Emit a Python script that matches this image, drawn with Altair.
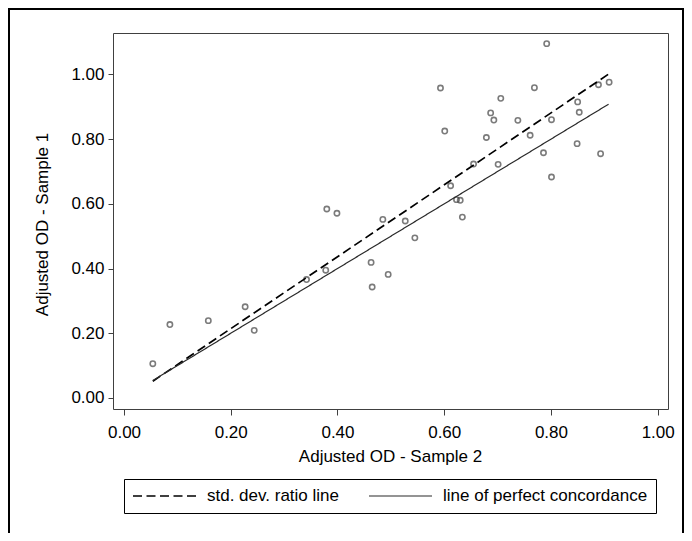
import altair as alt
import pandas as pd

# Scatter data
sample2 = [0.054, 0.086, 0.158, 0.227, 0.244, 0.342, 0.378, 0.380, 0.399, 0.463,
           0.465, 0.485, 0.495, 0.527, 0.545, 0.593, 0.601, 0.612, 0.623, 0.630,
           0.634, 0.655, 0.679, 0.687, 0.693, 0.701, 0.706, 0.738, 0.761, 0.769,
           0.786, 0.792, 0.801, 0.801, 0.849, 0.850, 0.853, 0.889, 0.893, 0.909]
sample1 = [0.106, 0.227, 0.239, 0.282, 0.209, 0.366, 0.395, 0.584, 0.571, 0.419,
           0.343, 0.552, 0.382, 0.547, 0.495, 0.958, 0.825, 0.656, 0.613, 0.611,
           0.559, 0.723, 0.805, 0.881, 0.859, 0.722, 0.926, 0.858, 0.812, 0.959,
           0.758, 1.095, 0.860, 0.683, 0.786, 0.915, 0.883, 0.968, 0.755, 0.976]

# Reference lines (end points)
line_x = [0.054, 0.908]
sdratio_y = [0.052, 1.001]
perfect_y = [0.054, 0.908]
series_names = ["std. dev. ratio line", "line of perfect concordance"]

ticks = [0.0, 0.2, 0.4, 0.6, 0.8, 1.0]

FONT = "Liberation Sans"

pts = pd.DataFrame({"x": sample2, "y": sample1})
lines = pd.DataFrame({
    "x": line_x + line_x,
    "y": sdratio_y + perfect_y,
    "series": [series_names[0]] * 2 + [series_names[1]] * 2,
})

xscale = alt.Scale(domain=[-0.0206, 1.0193], nice=False, zero=False)
yscale = alt.Scale(domain=[-0.034, 1.128], nice=False, zero=False)

xaxis = alt.Axis(values=ticks, format=".2f", title="Adjusted OD - Sample 2",
                 grid=False, domain=False, tickSize=6, tickColor="#404040",
                 labelPadding=9, labelFontSize=17, labelFont=FONT, labelColor="black",
                 titleFontSize=17, titleFont=FONT, titleFontWeight="normal",
                 titleColor="black", titleX=277, titleY=52, titleBaseline="alphabetic",
                 titleAnchor="middle", labelFlush=False)
yaxis = alt.Axis(values=ticks, format=".2f", title="Adjusted OD - Sample 1",
                 grid=False, domain=False, tickSize=5, tickColor="#404040",
                 labelPadding=4, labelFontSize=17, labelFont=FONT, labelColor="black",
                 titleFontSize=17, titleFont=FONT, titleFontWeight="normal",
                 titleColor="black", titleX=-71, titleY=191, titleAngle=270,
                 titleAlign="center", titleBaseline="middle", labelFlush=False)

points = alt.Chart(pts).mark_point(shape="circle", filled=False, size=28,
                                   strokeWidth=1.6, color="#444444").encode(
    x=alt.X("x:Q", scale=xscale, axis=xaxis),
    y=alt.Y("y:Q", scale=yscale, axis=yaxis),
)

legend = alt.Legend(orient="none", legendX=11, legendY=446, direction="horizontal",
                    columns=2, title=None, symbolType="stroke", symbolSize=3969,
                    symbolStrokeWidth=1.3, labelFontSize=17, labelFont=FONT,
                    labelColor="black", labelOffset=10, columnPadding=29, padding=8,
                    clipHeight=18, strokeColor="black", labelLimit=400)

line_layer = alt.Chart(lines).mark_line().encode(
    x=alt.X("x:Q", scale=xscale),
    y=alt.Y("y:Q", scale=yscale),
    color=alt.Color("series:N", scale=alt.Scale(domain=series_names, range=["#000000", "#2a2a2a"]),
                    legend=legend, sort=series_names),
    strokeDash=alt.StrokeDash("series:N", scale=alt.Scale(domain=series_names, range=[[9, 4.5], [1, 0]]),
                              legend=legend, sort=series_names),
    strokeWidth=alt.StrokeWidth("series:N", scale=alt.Scale(domain=series_names, range=[1.7, 1.2]),
                                legend=None),
    detail="series:N",
)

panel = alt.Chart(pd.DataFrame({"a": [0]})).mark_rect(
    fillOpacity=0, stroke="black", strokeWidth=2
).encode(
    x=alt.value(-104), x2=alt.value(570), y=alt.value(-24), y2=alt.value(520)
)

chart = alt.layer(panel, points, line_layer).properties(
    width=555, height=376,
    autosize=alt.AutoSizeParams(type="none"),
    padding={"left": 105, "top": 25, "right": 16, "bottom": 124},
    background="white",
).configure_view(stroke="#404040", strokeWidth=1)

chart.save("out.html", embed_options={"renderer": "svg", "actions": False})
